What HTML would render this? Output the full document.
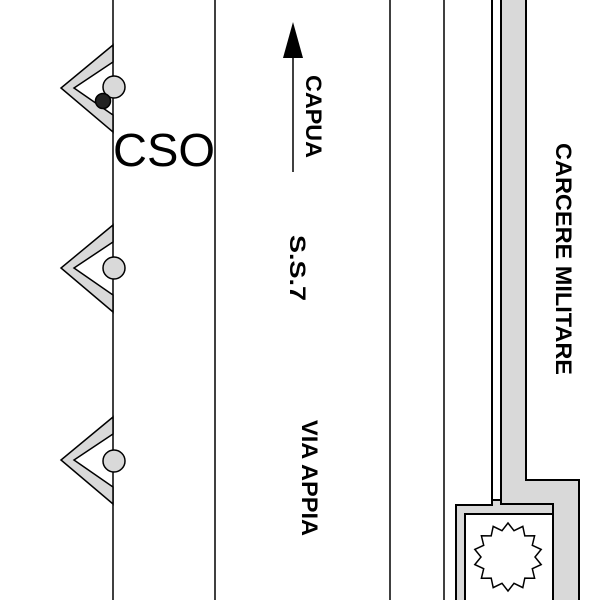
<!DOCTYPE html>
<html><head><style>body{margin:0;background:#fff}svg{display:block}</style></head>
<body>
<svg width="600" height="600" viewBox="0 0 600 600" xmlns="http://www.w3.org/2000/svg" font-family="Liberation Sans, sans-serif">
<rect width="600" height="600" fill="#fff"/>
<g stroke="#000" stroke-width="1.5" fill="none">
<line x1="113" y1="0" x2="113" y2="600"/>
<line x1="215" y1="0" x2="215" y2="600"/>
<line x1="390" y1="0" x2="390" y2="600"/>
<line x1="444" y1="0" x2="444" y2="600"/>
</g>
<g stroke="#000" stroke-width="1.5">
<polygon points="113,45 61,88 113,132 113,115 74,88 113,62" fill="#d9d9d9"/>
<polygon points="113,225 61,268 113,312 113,295 74,268 113,242" fill="#d9d9d9"/>
<polygon points="113,417 61,460 113,504 113,487 74,460 113,434" fill="#d9d9d9"/>
<circle cx="114" cy="87" r="11" fill="#d9d9d9"/>
<circle cx="114" cy="268" r="11" fill="#d9d9d9"/>
<circle cx="114" cy="461" r="11" fill="#d9d9d9"/>
<circle cx="103" cy="101" r="7.5" fill="#222"/>
</g>
<text x="113" y="166" font-size="46" textLength="102" lengthAdjust="spacingAndGlyphs">CSO</text>
<line x1="293" y1="172" x2="293" y2="55" stroke="#000" stroke-width="1.5"/>
<polygon points="293,22 283,58 303,58" fill="#000"/>
<g font-size="22" font-weight="bold">
<text transform="translate(306,75) rotate(90)" textLength="83" lengthAdjust="spacingAndGlyphs">CAPUA</text>
<text transform="translate(290,235) rotate(90)" textLength="66" lengthAdjust="spacingAndGlyphs">S.S.7</text>
<text transform="translate(302,420) rotate(90)" textLength="116" lengthAdjust="spacingAndGlyphs">VIA APPIA</text>
<text transform="translate(556,143) rotate(90)" textLength="232" lengthAdjust="spacingAndGlyphs">CARCERE MILITARE</text>
</g>
<g stroke="#000" stroke-width="2">
<polygon points="501,-2 526,-2 526,480 579,480 579,602 456,602 456,505 492,505 492,500 501,500" fill="#d9d9d9"/>
<line x1="492" y1="-2" x2="492" y2="505"/>
<polyline points="501,0 501,504 553,504 553,602" fill="none"/>
<rect x="465" y="514" width="88" height="90" fill="#fff"/>
<polygon fill="#fff" stroke-width="1.5" points="508,523 514,530.7 522.8,526.4 524.8,535.9 534.6,535.8 532.3,545.3 541.2,549.4 535,557 541.2,564.6 532.3,568.7 534.6,578.2 524.8,578.1 522.8,587.6 514,583.3 508,591 502,583.3 493.2,587.6 491.2,578.1 481.4,578.2 483.7,568.7 474.8,564.6 481,557 474.8,549.4 483.7,545.3 481.4,535.8 491.2,535.9 493.2,526.4 502,530.7"/>
</g>
</svg>
</body></html>
